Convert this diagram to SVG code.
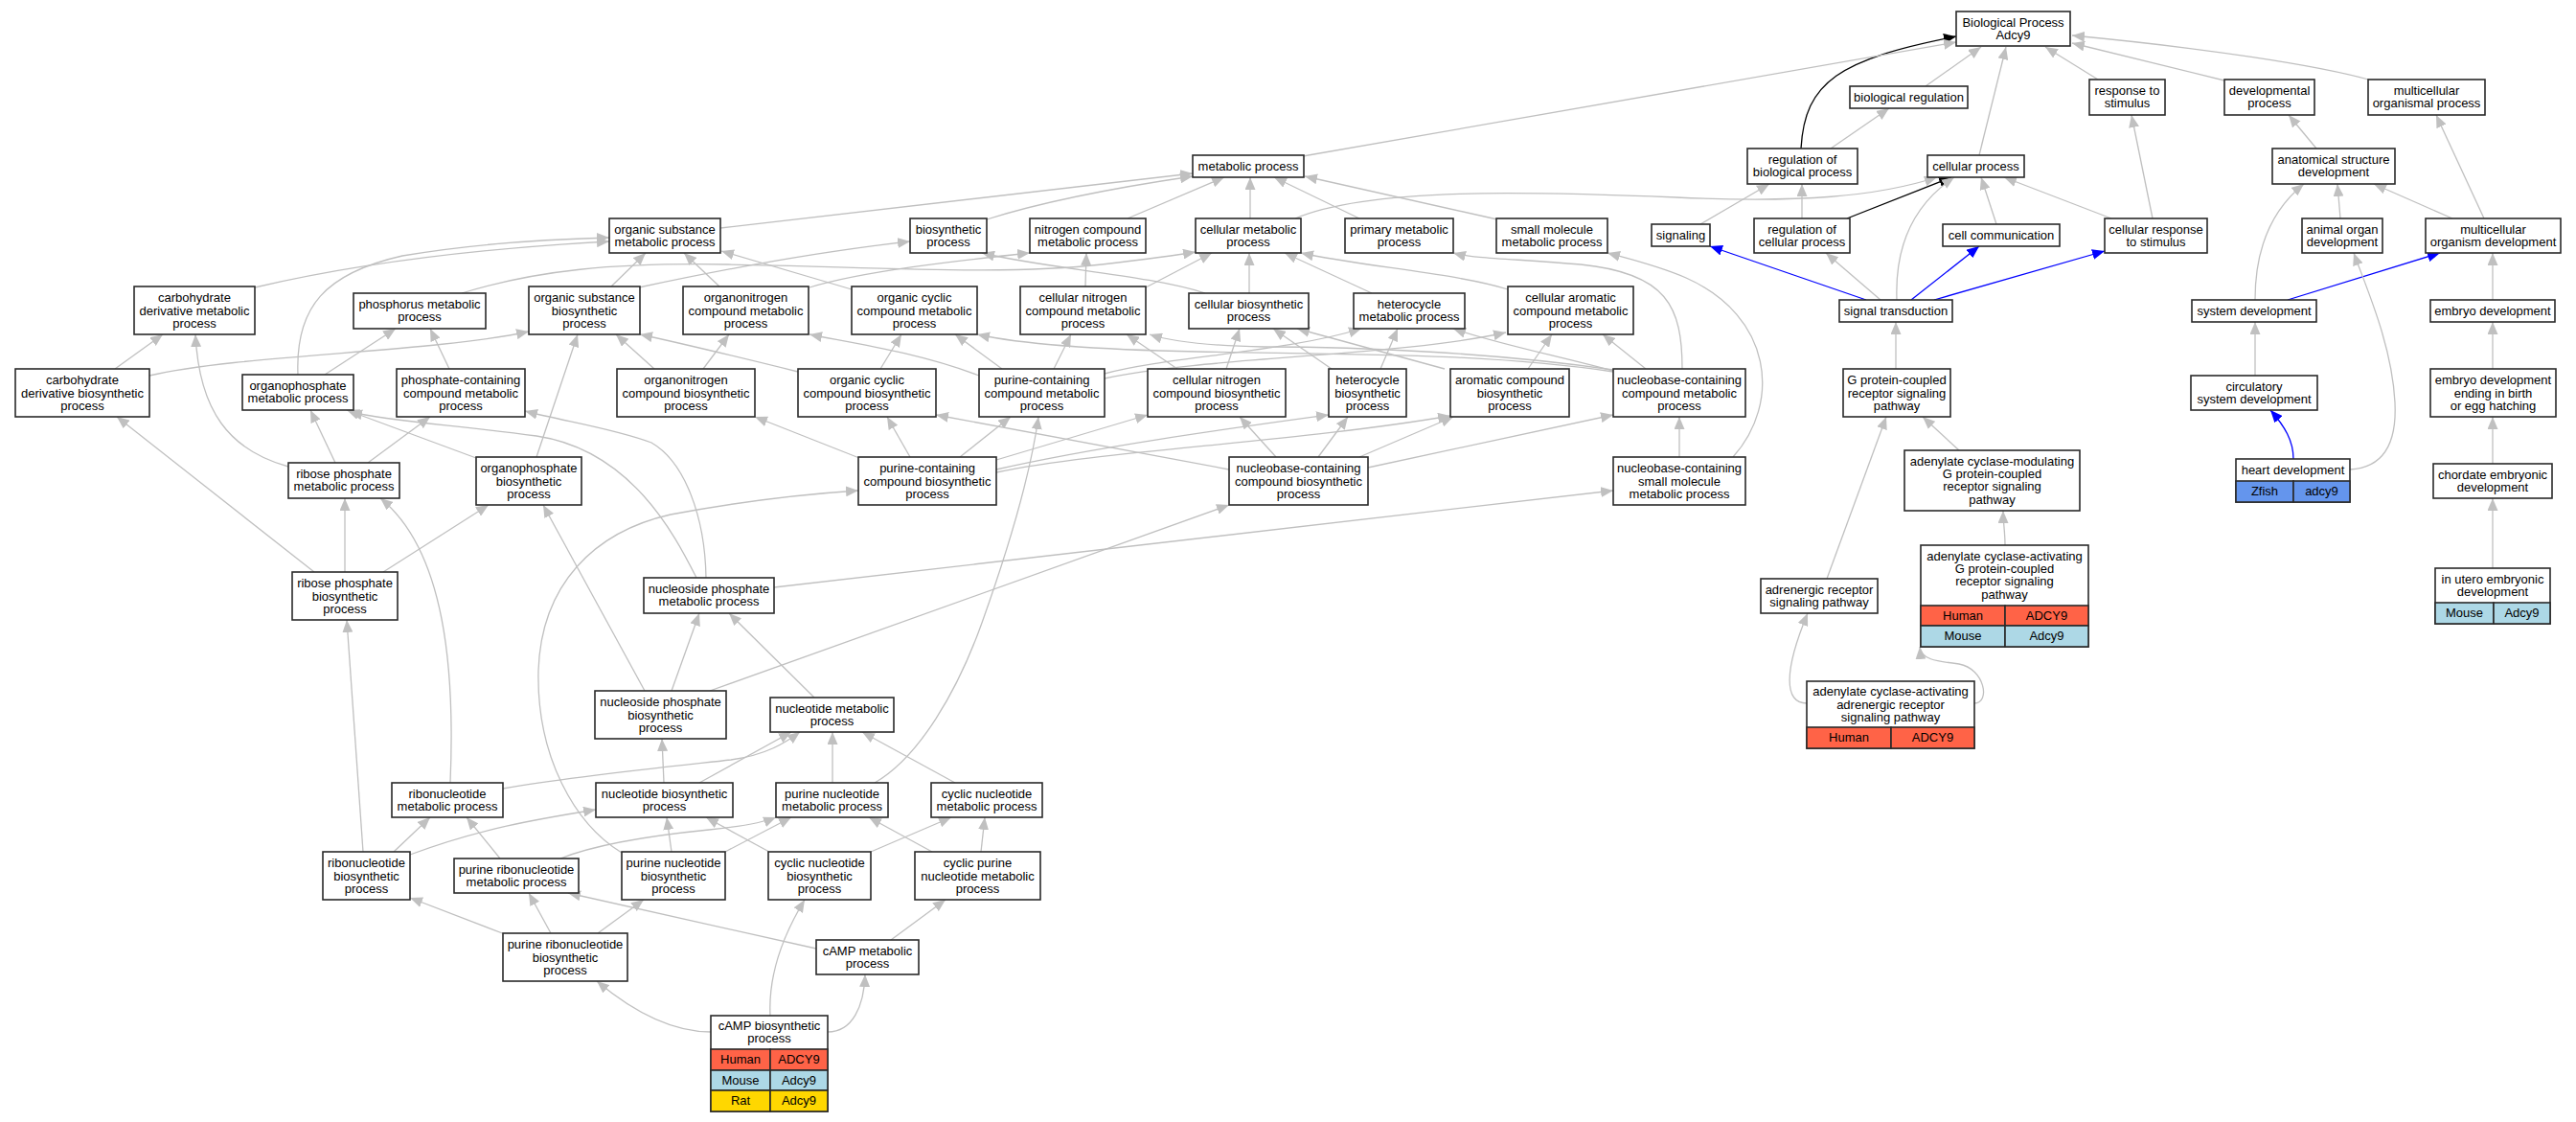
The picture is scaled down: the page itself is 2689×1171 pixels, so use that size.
<svg xmlns="http://www.w3.org/2000/svg" width="2689" height="1171" viewBox="0 0 2689 1171">
<style>
.n rect{fill:#fff;stroke:#2a2a2a;stroke-width:1.6}
text{font-family:"Liberation Sans",Arial,sans-serif;font-size:13px;text-anchor:middle;fill:#000}
.e path{fill:none;stroke:#c0c0c0;stroke-width:1.3;marker-end:url(#ag)}
.e path.k{stroke:#000;marker-end:url(#ak)}
.e path.b{stroke:#0000ff;marker-end:url(#ab)}
.hu{fill:#ff6347!important}
.mo{fill:#add8e6!important}
.ra{fill:#ffd700!important}
.zf{fill:#6495ed!important}
</style>
<defs>
<marker id="ag" markerUnits="userSpaceOnUse" markerWidth="14" markerHeight="11" refX="13" refY="5.5" orient="auto"><path d="M0,0 L13,5.5 L0,11 z" fill="#c0c0c0"/></marker>
<marker id="ak" markerUnits="userSpaceOnUse" markerWidth="14" markerHeight="11" refX="13" refY="5.5" orient="auto"><path d="M0,0 L13,5.5 L0,11 z" fill="#000"/></marker>
<marker id="ab" markerUnits="userSpaceOnUse" markerWidth="14" markerHeight="11" refX="13" refY="5.5" orient="auto"><path d="M0,0 L13,5.5 L0,11 z" fill="#0000ff"/></marker>
</defs>
<rect width="2689" height="1171" fill="#fff"/>
<g id="edges" class="e">
<path d="M2010,90 L2068,49"/>
<path d="M2066,162 L2094,49"/>
<path d="M2190,83 L2135,49"/>
<path d="M2326,85 L2163,45"/>
<path d="M2476,84 C2420,68 2300,50 2163,37"/>
<path class="k" d="M1880,155 C1884,85 1920,62 2042,38"/>
<path d="M1360,163 L2042,44"/>
<path d="M1911,155 L1972,113"/>
<path d="M1881,228 L1881,192"/>
<path d="M1775,234 L1847,192"/>
<path class="k" d="M1928,228 L2037,185"/>
<path d="M2084,234 L2068,185"/>
<path d="M2204,228 L2092,185"/>
<path d="M1980,313 C1978,260 1995,215 2040,185"/>
<path d="M1352,228 C1430,195 1600,200 1750,206 C1880,212 1960,205 2022,185"/>
<path class="b" d="M1948,313 L1785,257"/>
<path d="M1963,313 L1906,264"/>
<path class="b" d="M1995,313 L2066,257"/>
<path class="b" d="M2019,313 L2197,262"/>
<path d="M2247,228 L2225,120"/>
<path d="M2418,155 L2389,120"/>
<path d="M2593,228 L2543,120"/>
<path d="M2443,228 L2440,192"/>
<path d="M2560,228 L2478,192"/>
<path d="M2354,313 C2354,260 2370,220 2405,192"/>
<path class="b" d="M2388,313 L2547,264"/>
<path d="M2602,313 L2602,264"/>
<path d="M2354,392 L2354,336"/>
<path d="M2602,385 L2602,336"/>
<path d="M2453,490 C2490,488 2502,460 2500,420 C2497,360 2470,300 2457,264"/>
<path class="b" d="M2394,479 C2394,460 2385,445 2370,428"/>
<path d="M2602,484 L2602,435"/>
<path d="M2602,593 L2602,520"/>
<path d="M1979,385 L1979,336"/>
<path d="M2045,470 L2007,435"/>
<path d="M2093,569 C2093,555 2091,545 2091,533"/>
<path d="M1907,604 L1969,435"/>
<path d="M1886,734 C1862,734 1862,700 1887,640"/>
<path d="M2061,734 C2078,734 2072,698 2045,693 C2020,690 2005,688 2004,675"/>
<path d="M752,238 L1245,181"/>
<path d="M1030,229 C1090,210 1170,195 1245,184"/>
<path d="M1177,228 L1278,185"/>
<path d="M1305,228 L1305,185"/>
<path d="M1419,228 L1330,185"/>
<path d="M1563,229 L1362,184"/>
<path d="M266,300 C330,285 450,262 636,252"/>
<path d="M311,391 C308,320 340,285 420,267 C490,255 560,250 636,248"/>
<path d="M638,299 L674,264"/>
<path d="M751,299 L714,264"/>
<path d="M889,302 L753,262"/>
<path d="M482,306 C560,282 640,274 760,276 C900,278 1050,288 1150,276 C1200,270 1230,266 1248,263"/>
<path d="M667,300 C760,280 860,262 950,252"/>
<path d="M845,300 C900,283 1000,272 1075,264"/>
<path d="M1133,299 L1134,264"/>
<path d="M1196,300 L1265,264"/>
<path d="M1304,306 L1304,264"/>
<path d="M1258,306 C1200,287 1090,280 1025,264"/>
<path d="M1432,306 L1341,264"/>
<path d="M1574,302 C1520,285 1420,278 1358,264"/>
<path d="M1756,385 C1756,320 1740,285 1650,276 C1580,270 1540,270 1517,264"/>
<path d="M1809,477 C1860,420 1850,330 1760,290 C1730,277 1700,270 1678,264"/>
<path d="M1718,385 L1673,349"/>
<path d="M1684,387 C1620,370 1560,358 1517,343"/>
<path d="M1684,388 C1550,368 1400,370 1250,367 C1150,365 1070,360 1020,349"/>
<path d="M1684,386 C1560,368 1420,362 1320,362 C1260,361 1225,357 1200,349"/>
<path d="M1280,385 L1294,343"/>
<path d="M1390,385 L1329,343"/>
<path d="M1508,385 L1354,343"/>
<path d="M1441,385 L1459,343"/>
<path d="M1595,385 L1620,349"/>
<path d="M1153,390 C1220,372 1340,368 1421,343"/>
<path d="M1153,395 C1260,372 1460,372 1572,347"/>
<path d="M1100,385 L1118,349"/>
<path d="M1046,385 L997,349"/>
<path d="M1022,392 C960,368 890,358 845,349"/>
<path d="M1229,385 L1176,349"/>
<path d="M919,385 L941,349"/>
<path d="M833,388 C760,370 710,358 668,349"/>
<path d="M734,385 L761,349"/>
<path d="M683,385 L643,349"/>
<path d="M120,385 L170,349"/>
<path d="M156,392 C250,370 450,368 552,346"/>
<path d="M339,391 L413,343"/>
<path d="M469,385 L449,343"/>
<path d="M301,487 C240,470 208,430 204,349"/>
<path d="M350,483 L324,428"/>
<path d="M384,483 L449,435"/>
<path d="M497,478 L362,428"/>
<path d="M560,477 L603,349"/>
<path d="M328,597 L122,435"/>
<path d="M360,597 L360,520"/>
<path d="M400,597 L510,527"/>
<path d="M470,817 C475,700 465,575 397,520"/>
<path d="M727,603 C705,560 660,470 560,455 C470,443 410,440 365,430"/>
<path d="M737,603 C736,540 715,482 680,462 C640,447 590,440 548,429"/>
<path d="M808,613 L1684,512"/>
<path d="M673,721 L567,527"/>
<path d="M701,721 L730,640"/>
<path d="M741,721 L1283,527"/>
<path d="M850,728 L761,640"/>
<path d="M525,823 C600,810 700,800 763,793 C800,788 820,775 835,764"/>
<path d="M730,817 L826,764"/>
<path d="M693,817 L691,771"/>
<path d="M869,817 L869,764"/>
<path d="M913,817 C960,790 1000,720 1025,650 C1050,580 1075,500 1084,435"/>
<path d="M997,817 L900,764"/>
<path d="M379,889 L362,647"/>
<path d="M411,889 L449,853"/>
<path d="M428,892 C500,865 560,855 622,845"/>
<path d="M522,896 L487,853"/>
<path d="M585,896 C620,882 680,872 740,866 C780,862 800,857 810,853"/>
<path d="M701,889 L696,853"/>
<path d="M757,889 L826,853"/>
<path d="M649,890 C600,860 560,790 562,700 C565,610 620,555 700,537 C780,522 850,515 896,512"/>
<path d="M803,889 L737,853"/>
<path d="M909,889 L993,853"/>
<path d="M973,889 L907,853"/>
<path d="M1024,889 L1028,853"/>
<path d="M527,975 L428,937"/>
<path d="M575,974 L552,932"/>
<path d="M624,974 L672,939"/>
<path d="M852,990 L593,932"/>
<path d="M930,981 L987,939"/>
<path d="M742,1077 C700,1077 660,1055 623,1024"/>
<path d="M804,1060 C802,1020 815,980 840,939"/>
<path d="M864,1077 C890,1077 902,1050 903,1017"/>
<path d="M897,478 L788,435"/>
<path d="M950,477 L926,435"/>
<path d="M1002,477 L1055,435"/>
<path d="M1040,480 L1198,433"/>
<path d="M1040,490 C1150,465 1300,445 1387,433"/>
<path d="M1040,493 C1150,470 1350,462 1514,434"/>
<path d="M1332,477 L1294,435"/>
<path d="M1376,477 L1407,435"/>
<path d="M1419,477 L1517,435"/>
<path d="M1428,488 L1684,433"/>
<path d="M1283,490 L977,433"/>
<path d="M1753,477 L1753,435"/>
</g>
<g id="n_BP" class="n"><rect x="2042" y="12" width="119" height="36"/><text x="2101.5" y="27.5">Biological Process</text><text x="2101.5" y="40.9">Adcy9</text></g>
<g id="n_BREG" class="n"><rect x="1931" y="90" width="123" height="23"/><text x="1992.5" y="105.7">biological regulation</text></g>
<g id="n_RESP" class="n"><rect x="2181" y="83" width="79" height="37"/><text x="2220.5" y="99">response to</text><text x="2220.5" y="112.4">stimulus</text></g>
<g id="n_DEV" class="n"><rect x="2322" y="83" width="94" height="37"/><text x="2369" y="99">developmental</text><text x="2369" y="112.4">process</text></g>
<g id="n_MCOP" class="n"><rect x="2472" y="83" width="122" height="37"/><text x="2533" y="99">multicellular</text><text x="2533" y="112.4">organismal process</text></g>
<g id="n_MET" class="n"><rect x="1245" y="162" width="116" height="23"/><text x="1303" y="177.7">metabolic process</text></g>
<g id="n_RBP" class="n"><rect x="1824" y="155" width="115" height="37"/><text x="1881.5" y="171">regulation of</text><text x="1881.5" y="184.4">biological process</text></g>
<g id="n_CP" class="n"><rect x="2012" y="162" width="101" height="23"/><text x="2062.5" y="177.7">cellular process</text></g>
<g id="n_ASD" class="n"><rect x="2372" y="155" width="128" height="37"/><text x="2436" y="171">anatomical structure</text><text x="2436" y="184.4">development</text></g>
<g id="n_OSMP" class="n"><rect x="636" y="228" width="116" height="36"/><text x="694" y="243.5">organic substance</text><text x="694" y="256.9">metabolic process</text></g>
<g id="n_BIOS" class="n"><rect x="950" y="228" width="80" height="36"/><text x="990" y="243.5">biosynthetic</text><text x="990" y="256.9">process</text></g>
<g id="n_NCMP" class="n"><rect x="1075" y="228" width="121" height="36"/><text x="1135.5" y="243.5">nitrogen compound</text><text x="1135.5" y="256.9">metabolic process</text></g>
<g id="n_CMP" class="n"><rect x="1248" y="228" width="110" height="36"/><text x="1303" y="243.5">cellular metabolic</text><text x="1303" y="256.9">process</text></g>
<g id="n_PMP" class="n"><rect x="1404" y="228" width="113" height="36"/><text x="1460.5" y="243.5">primary metabolic</text><text x="1460.5" y="256.9">process</text></g>
<g id="n_SMMP" class="n"><rect x="1562" y="228" width="116" height="36"/><text x="1620" y="243.5">small molecule</text><text x="1620" y="256.9">metabolic process</text></g>
<g id="n_SIG" class="n"><rect x="1724" y="234" width="61" height="23"/><text x="1754.5" y="249.7">signaling</text></g>
<g id="n_RCP" class="n"><rect x="1831" y="228" width="100" height="36"/><text x="1881" y="243.5">regulation of</text><text x="1881" y="256.9">cellular process</text></g>
<g id="n_CC" class="n"><rect x="2028" y="234" width="122" height="23"/><text x="2089" y="249.7">cell communication</text></g>
<g id="n_CRS" class="n"><rect x="2197" y="228" width="107" height="36"/><text x="2250.5" y="243.5">cellular response</text><text x="2250.5" y="256.9">to stimulus</text></g>
<g id="n_AOD" class="n"><rect x="2403" y="228" width="84" height="36"/><text x="2445" y="243.5">animal organ</text><text x="2445" y="256.9">development</text></g>
<g id="n_MOD" class="n"><rect x="2532" y="228" width="141" height="36"/><text x="2602.5" y="243.5">multicellular</text><text x="2602.5" y="256.9">organism development</text></g>
<g id="n_CDMP" class="n"><rect x="140" y="299" width="126" height="50"/><text x="203" y="315.1">carbohydrate</text><text x="203" y="328.5">derivative metabolic</text><text x="203" y="341.9">process</text></g>
<g id="n_PHMP" class="n"><rect x="369" y="306" width="138" height="37"/><text x="438" y="322">phosphorus metabolic</text><text x="438" y="335.4">process</text></g>
<g id="n_OSBP" class="n"><rect x="552" y="299" width="116" height="50"/><text x="610" y="315.1">organic substance</text><text x="610" y="328.5">biosynthetic</text><text x="610" y="341.9">process</text></g>
<g id="n_ONMP" class="n"><rect x="713" y="299" width="131" height="50"/><text x="778.5" y="315.1">organonitrogen</text><text x="778.5" y="328.5">compound metabolic</text><text x="778.5" y="341.9">process</text></g>
<g id="n_OCMP" class="n"><rect x="889" y="299" width="131" height="50"/><text x="954.5" y="315.1">organic cyclic</text><text x="954.5" y="328.5">compound metabolic</text><text x="954.5" y="341.9">process</text></g>
<g id="n_CNMP" class="n"><rect x="1065" y="299" width="131" height="50"/><text x="1130.5" y="315.1">cellular nitrogen</text><text x="1130.5" y="328.5">compound metabolic</text><text x="1130.5" y="341.9">process</text></g>
<g id="n_CBP" class="n"><rect x="1241" y="306" width="125" height="37"/><text x="1303.5" y="322">cellular biosynthetic</text><text x="1303.5" y="335.4">process</text></g>
<g id="n_HMP" class="n"><rect x="1413" y="306" width="116" height="37"/><text x="1471" y="322">heterocycle</text><text x="1471" y="335.4">metabolic process</text></g>
<g id="n_CAMP2" class="n"><rect x="1574" y="299" width="131" height="50"/><text x="1639.5" y="315.1">cellular aromatic</text><text x="1639.5" y="328.5">compound metabolic</text><text x="1639.5" y="341.9">process</text></g>
<g id="n_ST" class="n"><rect x="1920" y="313" width="118" height="23"/><text x="1979" y="328.7">signal transduction</text></g>
<g id="n_SD" class="n"><rect x="2288" y="313" width="130" height="23"/><text x="2353" y="328.7">system development</text></g>
<g id="n_ED" class="n"><rect x="2537" y="313" width="130" height="23"/><text x="2602" y="328.7">embryo development</text></g>
<g id="n_CDBP" class="n"><rect x="16" y="385" width="140" height="50"/><text x="86" y="401.1">carbohydrate</text><text x="86" y="414.5">derivative biosynthetic</text><text x="86" y="427.9">process</text></g>
<g id="n_OPMP" class="n"><rect x="253" y="391" width="116" height="37"/><text x="311" y="407">organophosphate</text><text x="311" y="420.4">metabolic process</text></g>
<g id="n_PCMP" class="n"><rect x="414" y="385" width="134" height="50"/><text x="481" y="401.1">phosphate-containing</text><text x="481" y="414.5">compound metabolic</text><text x="481" y="427.9">process</text></g>
<g id="n_ONBP" class="n"><rect x="644" y="385" width="144" height="50"/><text x="716" y="401.1">organonitrogen</text><text x="716" y="414.5">compound biosynthetic</text><text x="716" y="427.9">process</text></g>
<g id="n_OCBP" class="n"><rect x="833" y="385" width="144" height="50"/><text x="905" y="401.1">organic cyclic</text><text x="905" y="414.5">compound biosynthetic</text><text x="905" y="427.9">process</text></g>
<g id="n_PUCMP" class="n"><rect x="1022" y="385" width="131" height="50"/><text x="1087.5" y="401.1">purine-containing</text><text x="1087.5" y="414.5">compound metabolic</text><text x="1087.5" y="427.9">process</text></g>
<g id="n_CNBP" class="n"><rect x="1198" y="385" width="144" height="50"/><text x="1270" y="401.1">cellular nitrogen</text><text x="1270" y="414.5">compound biosynthetic</text><text x="1270" y="427.9">process</text></g>
<g id="n_HBP" class="n"><rect x="1387" y="385" width="81" height="50"/><text x="1427.5" y="401.1">heterocycle</text><text x="1427.5" y="414.5">biosynthetic</text><text x="1427.5" y="427.9">process</text></g>
<g id="n_ACBP" class="n"><rect x="1514" y="385" width="124" height="50"/><text x="1576" y="401.1">aromatic compound</text><text x="1576" y="414.5">biosynthetic</text><text x="1576" y="427.9">process</text></g>
<g id="n_NBCMP" class="n"><rect x="1684" y="385" width="138" height="50"/><text x="1753" y="401.1">nucleobase-containing</text><text x="1753" y="414.5">compound metabolic</text><text x="1753" y="427.9">process</text></g>
<g id="n_GPCR" class="n"><rect x="1924" y="385" width="112" height="50"/><text x="1980" y="401.1">G protein-coupled</text><text x="1980" y="414.5">receptor signaling</text><text x="1980" y="427.9">pathway</text></g>
<g id="n_CSD" class="n"><rect x="2287" y="392" width="132" height="36"/><text x="2353" y="407.5">circulatory</text><text x="2353" y="420.9">system development</text></g>
<g id="n_EDB" class="n"><rect x="2537" y="385" width="131" height="50"/><text x="2602.5" y="401.1">embryo development</text><text x="2602.5" y="414.5">ending in birth</text><text x="2602.5" y="427.9">or egg hatching</text></g>
<g id="n_RPMP" class="n"><rect x="301" y="483" width="116" height="37"/><text x="359" y="499">ribose phosphate</text><text x="359" y="512.4">metabolic process</text></g>
<g id="n_OPBP" class="n"><rect x="497" y="477" width="110" height="50"/><text x="552" y="493.1">organophosphate</text><text x="552" y="506.5">biosynthetic</text><text x="552" y="519.9">process</text></g>
<g id="n_PUCBP" class="n"><rect x="896" y="477" width="144" height="50"/><text x="968" y="493.1">purine-containing</text><text x="968" y="506.5">compound biosynthetic</text><text x="968" y="519.9">process</text></g>
<g id="n_NBCBP" class="n"><rect x="1283" y="477" width="145" height="50"/><text x="1355.5" y="493.1">nucleobase-containing</text><text x="1355.5" y="506.5">compound biosynthetic</text><text x="1355.5" y="519.9">process</text></g>
<g id="n_NBSM" class="n"><rect x="1684" y="477" width="138" height="50"/><text x="1753" y="493.1">nucleobase-containing</text><text x="1753" y="506.5">small molecule</text><text x="1753" y="519.9">metabolic process</text></g>
<g id="n_ACM" class="n"><rect x="1988" y="470" width="183" height="63"/><text x="2079.5" y="485.6">adenylate cyclase-modulating</text><text x="2079.5" y="499">G protein-coupled</text><text x="2079.5" y="512.4">receptor signaling</text><text x="2079.5" y="525.8">pathway</text></g>
<g id="n_HD" class="n"><rect x="2334" y="479" width="119" height="45"/><text x="2393.5" y="494.7">heart development</text><rect class="zf" x="2334" y="502" width="60" height="22"/><rect class="zf" x="2394" y="502" width="59" height="22"/><text x="2364" y="517.2">Zfish</text><text x="2423.5" y="517.2">adcy9</text></g>
<g id="n_CED" class="n"><rect x="2540" y="484" width="124" height="36"/><text x="2602" y="499.5">chordate embryonic</text><text x="2602" y="512.9">development</text></g>
<g id="n_ACA" class="n"><rect x="2005" y="569" width="175" height="106"/><text x="2092.5" y="584.6">adenylate cyclase-activating</text><text x="2092.5" y="598">G protein-coupled</text><text x="2092.5" y="611.4">receptor signaling</text><text x="2092.5" y="624.8">pathway</text><rect class="hu" x="2005" y="632" width="88" height="21"/><rect class="hu" x="2093" y="632" width="87" height="21"/><rect class="mo" x="2005" y="653" width="88" height="22"/><rect class="mo" x="2093" y="653" width="87" height="22"/><text x="2049" y="646.7">Human</text><text x="2136.5" y="646.7">ADCY9</text><text x="2049" y="668.2">Mouse</text><text x="2136.5" y="668.2">Adcy9</text></g>
<g id="n_IUED" class="n"><rect x="2542" y="593" width="120" height="58"/><text x="2602" y="608.5">in utero embryonic</text><text x="2602" y="621.9">development</text><rect class="mo" x="2542" y="629" width="61" height="22"/><rect class="mo" x="2603" y="629" width="59" height="22"/><text x="2572.5" y="644.2">Mouse</text><text x="2632.5" y="644.2">Adcy9</text></g>
<g id="n_RPBP" class="n"><rect x="305" y="597" width="110" height="50"/><text x="360" y="613.1">ribose phosphate</text><text x="360" y="626.5">biosynthetic</text><text x="360" y="639.9">process</text></g>
<g id="n_NSPMP" class="n"><rect x="672" y="603" width="136" height="37"/><text x="740" y="619">nucleoside phosphate</text><text x="740" y="632.4">metabolic process</text></g>
<g id="n_ARSP" class="n"><rect x="1838" y="604" width="122" height="36"/><text x="1899" y="619.5">adrenergic receptor</text><text x="1899" y="632.9">signaling pathway</text></g>
<g id="n_ACAR" class="n"><rect x="1886" y="711" width="175" height="70"/><text x="1973.5" y="726.1">adenylate cyclase-activating</text><text x="1973.5" y="739.5">adrenergic receptor</text><text x="1973.5" y="752.9">signaling pathway</text><rect class="hu" x="1886" y="759" width="88" height="22"/><rect class="hu" x="1974" y="759" width="87" height="22"/><text x="1930" y="774.2">Human</text><text x="2017.5" y="774.2">ADCY9</text></g>
<g id="n_NSPBP" class="n"><rect x="621" y="721" width="137" height="50"/><text x="689.5" y="737.1">nucleoside phosphate</text><text x="689.5" y="750.5">biosynthetic</text><text x="689.5" y="763.9">process</text></g>
<g id="n_NTMP" class="n"><rect x="804" y="728" width="129" height="36"/><text x="868.5" y="743.5">nucleotide metabolic</text><text x="868.5" y="756.9">process</text></g>
<g id="n_RNMP" class="n"><rect x="409" y="817" width="116" height="36"/><text x="467" y="832.5">ribonucleotide</text><text x="467" y="845.9">metabolic process</text></g>
<g id="n_NTBP" class="n"><rect x="622" y="817" width="143" height="36"/><text x="693.5" y="832.5">nucleotide biosynthetic</text><text x="693.5" y="845.9">process</text></g>
<g id="n_PNMP" class="n"><rect x="810" y="817" width="117" height="36"/><text x="868.5" y="832.5">purine nucleotide</text><text x="868.5" y="845.9">metabolic process</text></g>
<g id="n_CNTMP" class="n"><rect x="972" y="817" width="116" height="36"/><text x="1030" y="832.5">cyclic nucleotide</text><text x="1030" y="845.9">metabolic process</text></g>
<g id="n_RNBP" class="n"><rect x="337" y="889" width="91" height="50"/><text x="382.5" y="905.1">ribonucleotide</text><text x="382.5" y="918.5">biosynthetic</text><text x="382.5" y="931.9">process</text></g>
<g id="n_PRNMP" class="n"><rect x="474" y="896" width="130" height="36"/><text x="539" y="911.5">purine ribonucleotide</text><text x="539" y="924.9">metabolic process</text></g>
<g id="n_PNBP" class="n"><rect x="649" y="889" width="108" height="50"/><text x="703" y="905.1">purine nucleotide</text><text x="703" y="918.5">biosynthetic</text><text x="703" y="931.9">process</text></g>
<g id="n_CNBP2" class="n"><rect x="802" y="889" width="107" height="50"/><text x="855.5" y="905.1">cyclic nucleotide</text><text x="855.5" y="918.5">biosynthetic</text><text x="855.5" y="931.9">process</text></g>
<g id="n_CPNMP" class="n"><rect x="955" y="889" width="131" height="50"/><text x="1020.5" y="905.1">cyclic purine</text><text x="1020.5" y="918.5">nucleotide metabolic</text><text x="1020.5" y="931.9">process</text></g>
<g id="n_PRNBP" class="n"><rect x="525" y="974" width="130" height="50"/><text x="590" y="990.1">purine ribonucleotide</text><text x="590" y="1003.5">biosynthetic</text><text x="590" y="1016.9">process</text></g>
<g id="n_CAMPMP" class="n"><rect x="852" y="981" width="107" height="36"/><text x="905.5" y="996.5">cAMP metabolic</text><text x="905.5" y="1009.9">process</text></g>
<g id="n_CAMPBP" class="n"><rect x="742" y="1060" width="122" height="100"/><text x="803" y="1075">cAMP biosynthetic</text><text x="803" y="1088.4">process</text><rect class="hu" x="742" y="1095" width="62" height="22"/><rect class="hu" x="804" y="1095" width="60" height="22"/><rect class="mo" x="742" y="1117" width="62" height="21"/><rect class="mo" x="804" y="1117" width="60" height="21"/><rect class="ra" x="742" y="1138" width="62" height="22"/><rect class="ra" x="804" y="1138" width="60" height="22"/><text x="773" y="1110.2">Human</text><text x="834" y="1110.2">ADCY9</text><text x="773" y="1131.7">Mouse</text><text x="834" y="1131.7">Adcy9</text><text x="773" y="1153.2">Rat</text><text x="834" y="1153.2">Adcy9</text></g>
</svg>
